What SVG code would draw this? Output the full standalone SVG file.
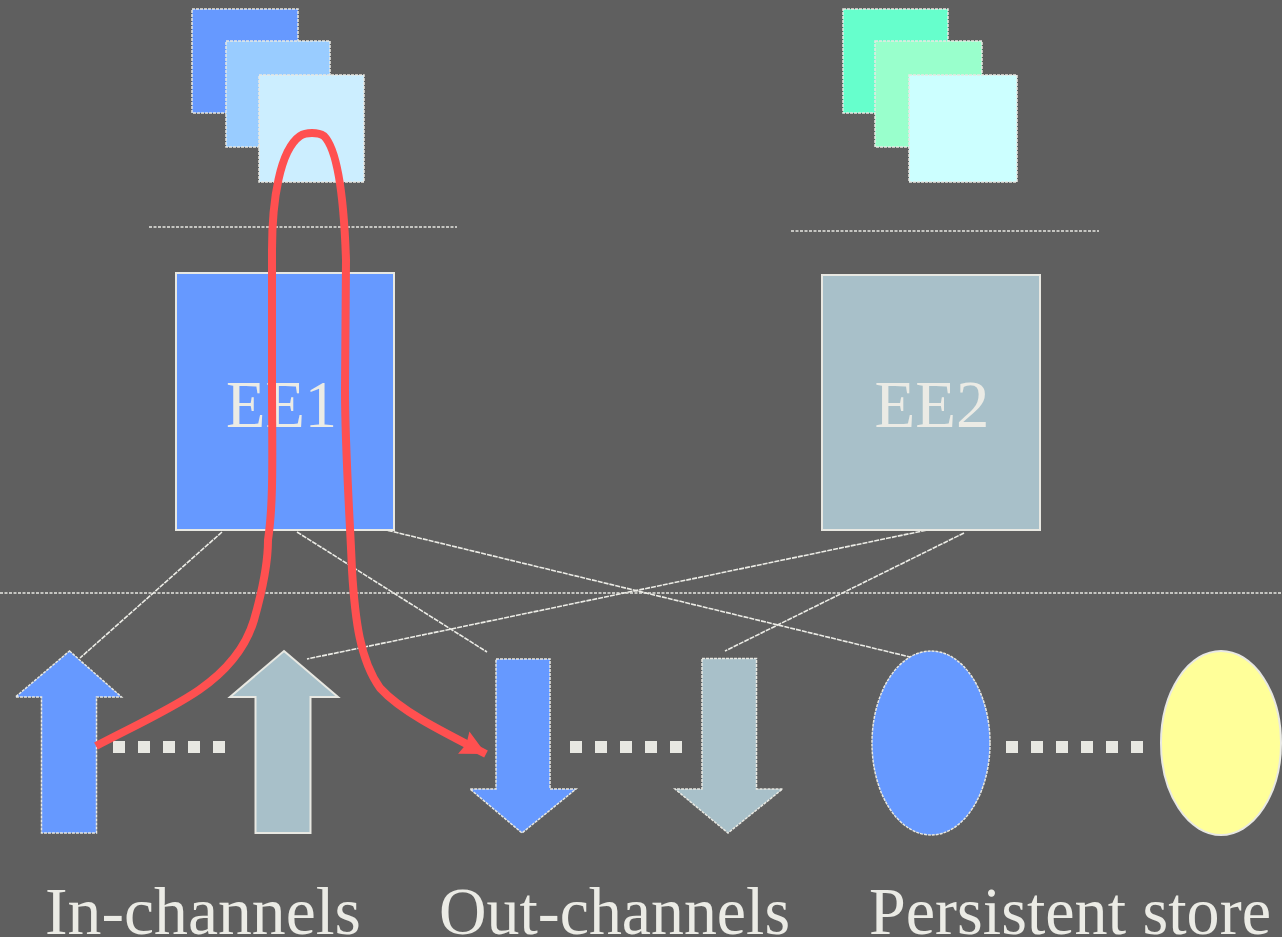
<svg xmlns="http://www.w3.org/2000/svg" width="1282" height="937" viewBox="0 0 1282 937">
  <defs>
    <style>
      .dot { stroke: #e8e8e2; stroke-width: 1.5; stroke-dasharray: 3 1; }
      .solid { stroke: #e8e8e2; stroke-width: 2; }
      .conn { fill: none; stroke: #ecece6; stroke-width: 1.6; stroke-dasharray: 5 1; }
      .thick { fill: none; stroke: #e8e8e2; stroke-width: 12; stroke-dasharray: 12 13; }
      .sep { fill: none; stroke: #e8e8e2; stroke-width: 1.5; stroke-dasharray: 3 1.5; }
      .lbl { font-family: "Liberation Serif", "Times New Roman", serif; fill: #ebebe5; }
      .blue { fill: #6699ff; }
      .gray { fill: #a8c0c9; }
    </style>
    <marker id="redhead" markerWidth="26" markerHeight="27" refX="25" refY="13.5" orient="auto" markerUnits="userSpaceOnUse">
      <path d="M25,13.5 L0,1 L3,13.5 L0,26 Z" fill="#ff5050"/>
    </marker>
  </defs>
  <rect x="0" y="0" width="1282" height="937" fill="#5f5f5f"/>

  <g id="stack-left">
    <rect x="192" y="9" width="106" height="104" fill="#6699ff" class="dot"/>
    <rect x="226" y="41" width="104" height="106" fill="#99ccff" class="dot"/>
    <rect x="259" y="75" width="105" height="107" fill="#cceeff" class="dot"/>
  </g>
  <g id="stack-right">
    <rect x="843" y="9" width="105" height="104" fill="#66ffcc" class="dot"/>
    <rect x="875" y="41" width="107" height="106" fill="#99ffcc" class="dot"/>
    <rect x="909" y="75" width="108" height="107" fill="#ccffff" class="dot"/>
  </g>

  <g id="separators">
    <line x1="149" y1="227" x2="457" y2="227" class="sep"/>
    <line x1="791" y1="231" x2="1099" y2="231" class="sep"/>
    <line x1="0" y1="593" x2="1282" y2="593" class="sep" stroke-width="1"/>
  </g>

  <g id="connectors">
    <line x1="222" y1="532" x2="80" y2="658" class="conn"/>
    <line x1="297" y1="532" x2="487" y2="652" class="conn"/>
    <line x1="382" y1="529" x2="910" y2="657" class="conn"/>
    <line x1="932" y1="529" x2="307" y2="659" class="conn"/>
    <line x1="964" y1="533" x2="725" y2="651" class="conn"/>
    <line x1="113" y1="747" x2="238" y2="747" class="thick"/>
    <line x1="570" y1="747" x2="684" y2="747" class="thick"/>
    <line x1="1006" y1="747" x2="1146" y2="747" class="thick"/>
  </g>

  <g id="ee1">
    <rect x="176" y="273" width="218" height="257" class="blue solid"/>
    <text x="281.5" y="427" font-size="67" text-anchor="middle" class="lbl" textLength="111" lengthAdjust="spacingAndGlyphs">EE1</text>
  </g>
  <g id="ee2">
    <rect x="822" y="275" width="218" height="255" class="gray solid"/>
    <text x="932" y="427" font-size="67" text-anchor="middle" class="lbl" textLength="115" lengthAdjust="spacingAndGlyphs">EE2</text>
  </g>

  <g id="in-channel-1">
    <path d="M69.5,651 L121.5,697 L96.5,697 L96.5,833 L41.5,833 L41.5,697 L15.5,697 Z" class="blue dot"/>
  </g>
  <g id="in-channel-2">
    <path d="M284,651 L338,697 L310.5,697 L310.5,833 L255.5,833 L255.5,697 L230,697 Z" class="gray solid"/>
  </g>
  <g id="out-channel-1">
    <path d="M496,659 L550,659 L550,789 L576,789 L522,833 L470,789 L496,789 Z" class="blue dot"/>
  </g>
  <g id="out-channel-2">
    <path d="M702,658.5 L756.5,658.5 L756.5,789 L782.5,789 L728,833 L675,789 L702,789 Z" class="gray dot"/>
  </g>
  <g id="store-1">
    <ellipse cx="931" cy="743" rx="59" ry="92" class="blue dot"/>
  </g>
  <g id="store-2">
    <ellipse cx="1221" cy="743" rx="60" ry="92" fill="#ffff99" class="solid"/>
  </g>

  <g id="red-path">
    <path d="M96,746 C130,728 170,710 199,690 C225,672 245,650 254,620 C262,592 268,565 268,540 C274,500 272,450 272,380 L272,250 C272,200 280,150 300,136 C306,132 318,132 324,136 C338,150 344,200 346,260 L345,390 C345,450 350,520 352,570 C355,620 360,660 380,688 C400,710 435,728 486,754" fill="none" stroke="#ff5050" stroke-width="8" stroke-linecap="butt" stroke-linejoin="round" marker-end="url(#redhead)"/>
  </g>

  <g id="labels">
    <text x="45" y="934" font-size="68" class="lbl" textLength="316" lengthAdjust="spacingAndGlyphs">In-channels</text>
    <text x="439" y="934" font-size="68" class="lbl" textLength="351" lengthAdjust="spacingAndGlyphs">Out-channels</text>
    <text x="869" y="934" font-size="68" class="lbl" textLength="402" lengthAdjust="spacingAndGlyphs">Persistent store</text>
  </g>
</svg>
